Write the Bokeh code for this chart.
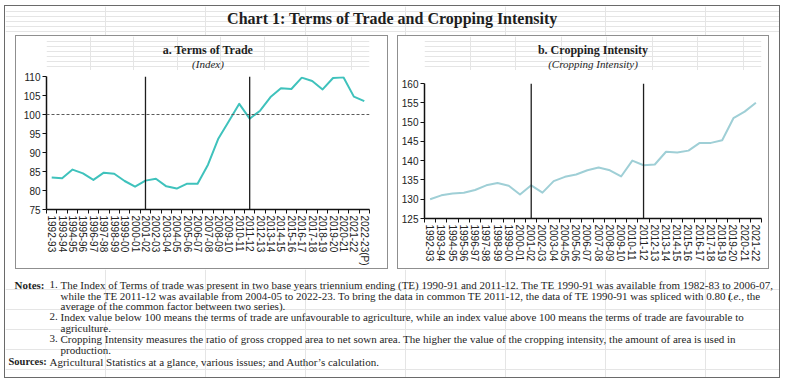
from bokeh.plotting import figure
from bokeh.layouts import column, row
from bokeh.models import Range1d, FixedTicker, Span, Spacer
from bokeh.embed import file_html
from bokeh.resources import INLINE
from bokeh.core.properties import value

# ---------------- data ----------------
tot_years = ["1992-93", "1993-94", "1994-95", "1995-96", "1996-97", "1997-98", "1998-99",
             "1999-00", "2000-01", "2001-02", "2002-03", "2003-04", "2004-05", "2005-06",
             "2006-07", "2007-08", "2008-09", "2009-10", "2010-11", "2011-12", "2012-13",
             "2013-14", "2014-15", "2015-16", "2016-17", "2017-18", "2018-19", "2019-20",
             "2020-21", "2021-22", "2022-23(P)"]
tot_index = [83.4, 83.2, 85.5, 84.5, 82.8, 84.7, 84.4, 82.5, 81.0, 82.6, 83.1, 81.1, 80.5,
             81.8, 81.8, 86.8, 93.7, 98.2, 102.8, 98.9, 101.0, 104.6, 106.9, 106.7, 109.7,
             108.8, 106.6, 109.6, 109.8, 104.7, 103.5]
tot_ticks = [75, 80, 85, 90, 95, 100, 105, 110]
tot_reference = 100

ci_years = ["1992-93", "1993-94", "1994-95", "1995-96", "1996-97", "1997-98", "1998-99",
            "1999-00", "2000-01", "2001-02", "2002-03", "2003-04", "2004-05", "2005-06",
            "2006-07", "2007-08", "2008-09", "2009-10", "2010-11", "2011-12", "2012-13",
            "2013-14", "2014-15", "2015-16", "2016-17", "2017-18", "2018-19", "2019-20",
            "2020-21", "2021-22"]
ci_values = [130.0, 131.0, 131.5, 131.7, 132.4, 133.6, 134.2, 133.5, 131.2, 133.6, 131.7,
             134.7, 135.8, 136.4, 137.5, 138.2, 137.5, 135.9, 140.0, 138.8, 139.0, 142.3,
             142.1, 142.6, 144.6, 144.6, 145.3, 151.0, 152.7, 155.0]
ci_ticks = [125, 130, 135, 140, 145, 150, 155, 160]

marker_years = ["2001-02", "2011-12"]

chart_title = "Chart 1: Terms of Trade and Cropping Intensity"
panel_a_title = "a. Terms of Trade"
panel_a_sub = "(Index)"
panel_b_title = "b. Cropping Intensity"
panel_b_sub = "(Cropping Intensity)"

# ---------------- styling ----------------
SERIF = "Liberation Serif"
SANS = "Liberation Sans"
TXT = "#1e1e1e"

TNR = {' ': 250, '(': 333, ')': 333, ',': 250, '-': 333, '.': 250, ':': 278, ';': 278,
       "'": 180, 'A': 722, 'B': 667, 'C': 667, 'D': 722, 'E': 611, 'F': 556, 'G': 722,
       'H': 722, 'I': 333, 'J': 389, 'K': 722, 'L': 611, 'M': 889, 'N': 722, 'O': 722,
       'P': 556, 'Q': 722, 'R': 667, 'S': 556, 'T': 611, 'U': 722, 'V': 722, 'W': 944,
       'X': 722, 'Y': 722, 'Z': 611, 'a': 444, 'b': 500, 'c': 444, 'd': 500, 'e': 444,
       'f': 333, 'g': 500, 'h': 500, 'i': 278, 'j': 278, 'k': 500, 'l': 278, 'm': 778,
       'n': 500, 'o': 500, 'p': 500, 'q': 500, 'r': 333, 's': 389, 't': 278, 'u': 500,
       'v': 500, 'w': 722, 'x': 500, 'y': 500, 'z': 444}


def tw(s, size):
    return sum(TNR.get(ch, 500) for ch in s) * size / 1000.0


def canvas(w, h):
    f = figure(width=w, height=h, x_range=Range1d(0, w), y_range=Range1d(h, 0),
               x_axis_location=None, y_axis_location=None, tools="",
               output_backend="svg", toolbar_location=None, min_border=0)
    f.outline_line_color = None
    f.background_fill_color = "white"
    f.border_fill_color = "white"
    return f


def put(f, x, y, s, size, style="normal", align="left", font=SERIF):
    f.text(x=[x], y=[y], text=[s], text_align=align, text_baseline="middle",
           text_font=value(font), text_font_style=style, text_font_size=f"{size}px",
           text_color=TXT)


def chart(years, vals, ticks, color, w, h, mb, ref=None):
    n = len(years)
    idx = list(range(n))
    p = figure(width=w, height=h, x_range=Range1d(-0.5, n - 0.5),
               y_range=Range1d(ticks[0], ticks[-1]), tools="",
               output_backend="svg", toolbar_location=None,
               min_border_left=mb[0], min_border_right=mb[1],
               min_border_top=mb[2], min_border_bottom=mb[3])
    p.outline_line_color = None
    p.grid.visible = False
    p.background_fill_color = "white"
    p.border_fill_color = "white"
    if ref is not None:
        p.add_layout(Span(location=ref, dimension="width", line_color="#5a5a5a",
                          line_width=1, line_dash="3 2"))
    for m in marker_years:
        if m in years:
            p.add_layout(Span(location=years.index(m), dimension="height",
                              line_color="#1e1e1e", line_width=1.3))
    p.line(idx, vals, line_color=color, line_width=2, line_join="round")

    xa = p.xaxis[0]
    xa.ticker = FixedTicker(ticks=idx, minor_ticks=[i - 0.5 for i in range(n + 1)])
    xa.major_label_overrides = {i: y for i, y in enumerate(years)}
    xa.major_label_orientation = "vertical"
    xa.major_tick_out = 0
    xa.major_tick_in = 0
    xa.minor_tick_out = 4
    xa.minor_tick_in = 0
    xa.major_label_standoff = 2

    ya = p.yaxis[0]
    ya.ticker = FixedTicker(ticks=ticks, minor_ticks=[])
    ya.major_tick_out = 4
    ya.major_tick_in = 0
    ya.minor_tick_out = 0
    ya.minor_tick_in = 0
    ya.major_label_standoff = 2

    for ax in (xa, ya):
        ax.axis_line_color = "#111111"
        ax.axis_line_width = 1.5
        ax.major_tick_line_color = "#111111"
        ax.minor_tick_line_color = "#111111"
        ax.major_label_text_font = SANS
        ax.major_label_text_font_size = "10px"
        ax.major_label_text_color = "#222222"
    return p


HEAD_H = 34
CHART_H = 198
PANEL_BORDER = {"border": "1px solid #8f8f8f"}
INNER_W = 774

# ---- header ----
header = canvas(INNER_W, 29)
put(header, 387, 12, chart_title, 16, "bold", "center")

# ---- panel a ----
WA = 371
head_a = canvas(WA, HEAD_H)
put(head_a, WA / 2, 13, panel_a_title, 12, "bold", "center")
put(head_a, WA / 2, 27, panel_a_sub, 11, "italic", "center")
chart_a = chart(tot_years, tot_index, tot_ticks, "#3fc2bc", WA, CHART_H,
                (30, 18, 6, 53), ref=tot_reference)
panel_a = column(head_a, chart_a, styles=PANEL_BORDER)

# ---- panel b ----
WB = 370
head_b = canvas(WB, HEAD_H)
put(head_b, WB / 2, 13, panel_b_title, 12, "bold", "center")
put(head_b, WB / 2, 27, panel_b_sub, 11, "italic", "center")
chart_b = chart(ci_years, ci_values, ci_ticks, "#9fcfd6", WB, CHART_H,
                (26, 7, 13, 50))
panel_b = column(head_b, chart_b, styles=PANEL_BORDER)

middle = row(Spacer(width=10, height=234), panel_a, Spacer(width=9, height=234),
             panel_b, Spacer(width=10, height=234))

# ---- notes ----
notes = canvas(INNER_W, 108)
FS = 11
LX = 39      # right edge of "Notes:" label
NX = 44      # item number
TX = 55      # item text
rows_y = [15, 26, 36.5, 47, 58, 69, 80, 92]
put(notes, LX, rows_y[0], "Notes:", FS, "bold", "right")
put(notes, NX, rows_y[0], "1.", FS)
put(notes, TX, rows_y[0], "The Index of Terms of trade was present in two base years triennium "
    "ending (TE) 1990-91 and 2011-12. The TE 1990-91 was available from 1982-83 to 2006-07,", FS)
l2a = ("while the TE 2011-12 was available from 2004-05 to 2022-23. To bring the data in "
       "common TE 2011-12, the data of TE 1990-91 was spliced with 0.80 (")
put(notes, TX, rows_y[1], l2a, FS)
xi = TX + tw(l2a, FS) * 0.99
put(notes, xi, rows_y[1], "i.e.,", FS, "italic")
put(notes, xi + tw("i.e., ", FS), rows_y[1], "the", FS)
put(notes, TX, rows_y[2], "average of the common factor between two series).", FS)
put(notes, NX, rows_y[3], "2.", FS)
put(notes, TX, rows_y[3], "Index value below 100 means the terms of trade are unfavourable to "
    "agriculture, while an index value above 100 means the terms of trade are favourable to", FS)
put(notes, TX, rows_y[4], "agriculture.", FS)
put(notes, NX, rows_y[5], "3.", FS)
put(notes, TX, rows_y[5], "Cropping Intensity measures the ratio of gross cropped area to net "
    "sown area. The higher the value of the cropping intensity, the amount of area is used in", FS)
put(notes, TX, rows_y[6], "production.", FS)
put(notes, 3, rows_y[7], "Sources:", 10.5, "bold", "left")
put(notes, 44, rows_y[7], "Agricultural Statistics at a glance, various issues; and Author\u2019s calculation.", FS)

page = column(header, middle, notes, styles={"border": "1px solid #6a6a6a",
                                              "background-color": "white"})
root = column(Spacer(width=780, height=5), row(Spacer(width=4, height=374), page))

with open("out.html", "w") as fh:
    fh.write(file_html(root, INLINE))
